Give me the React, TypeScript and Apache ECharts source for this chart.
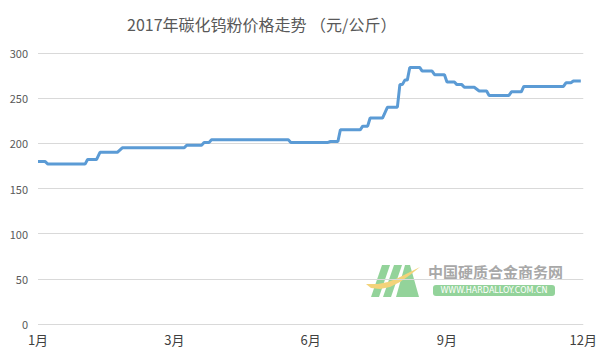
import React, { useEffect, useRef } from "react";
import * as echarts from "echarts";

// Price level segments (x index on a 0..220 scale spanning Jan..Dec)
const segStart = [0, 4, 20, 25, 34, 60, 67, 70, 102, 118, 122, 131, 134, 141, 146, 148, 150, 155, 160, 165, 169, 172, 178, 182, 191, 196, 213, 216];
const segEnd = [2.8, 19, 23.6, 32, 59, 66, 69, 101, 117, 121, 130, 133, 139, 145, 147, 149, 154, 159, 164, 168, 171, 176, 181, 190, 195, 212, 215, 219];
const segValue = [180, 177, 182, 190, 195, 198, 201, 204, 201, 202, 215, 219, 228, 240, 265, 270, 284, 280, 276, 268, 265, 262, 258, 253, 257, 263, 267, 269];

const xTickPositions = [0, 55, 110, 165, 220];
const xTickLabels = ["1月", "3月", "6月", "9月", "12月"];

const yMin = 0;
const yMax = 300;
const yInterval = 50;

const titleText = "2017年碳化钨粉价格走势 （元/公斤）";
const watermarkName = "中国硬质合金商务网";
const watermarkUrl = "WWW.HARDALLOY.COM.CN";

const FONT = "'Noto Sans CJK SC', 'Noto Sans', sans-serif";

export default function App() {
  const ref = useRef<HTMLDivElement>(null);

  useEffect(() => {
    if (!ref.current) return;
    const chart = echarts.init(ref.current, undefined, { renderer: "svg" });

    const points: [number, number][] = [];
    segStart.forEach((s, i) => {
      points.push([s, segValue[i]]);
      points.push([segEnd[i], segValue[i]]);
    });

    const green = "#93d39a";

    chart.setOption({
      animation: false,
      backgroundColor: "#ffffff",
      textStyle: { fontFamily: FONT },
      title: {
        text: titleText,
        left: 122,
        top: 11,
        textStyle: { fontSize: 16, fontWeight: "normal", color: "#595959", fontFamily: FONT },
      },
      grid: { left: 38, right: 12, top: 53, bottom: 34, containLabel: false },
      xAxis: {
        type: "value",
        min: 0,
        max: 220,
        interval: 55,
        axisLine: { show: false },
        axisTick: { show: false },
        splitLine: { show: false },
        axisLabel: {
          fontSize: 13,
          color: "#404040",
          margin: 9,
          fontFamily: FONT,
          formatter: (v: number) => {
            const i = xTickPositions.indexOf(v);
            return i >= 0 ? xTickLabels[i] : "";
          },
        },
      },
      yAxis: {
        type: "value",
        min: yMin,
        max: yMax,
        interval: yInterval,
        axisLine: { show: false },
        axisTick: { show: false },
        splitLine: { lineStyle: { color: "#d9d9d9", width: 1 } },
        axisLabel: { fontSize: 11, color: "#595959", margin: 10, fontFamily: FONT },
      },
      series: [
        {
          type: "line",
          data: points,
          symbol: "none",
          lineStyle: { color: "#5b9bd5", width: 3 },
          itemStyle: { color: "#5b9bd5" },
        },
      ],
      graphic: [
        {
          type: "group",
          silent: true,
          children: [
            { type: "polygon", shape: { points: [[371, 297], [379, 297], [390, 265], [382, 265]] }, style: { fill: green } },
            { type: "polygon", shape: { points: [[383, 297], [391, 297], [402, 265], [394, 265]] }, style: { fill: green } },
            { type: "polygon", shape: { points: [[396, 297], [405, 265], [410, 265], [419, 297], [411, 297]] }, style: { fill: green } },
            {
              type: "polygon",
              shape: {
                points: [
                  [366, 284], [371, 288], [380, 289], [390, 287], [400, 282], [410, 275], [420, 267],
                  [408, 273], [398, 278], [388, 282], [378, 284], [370, 284],
                ],
              },
              style: { fill: "#f3d37a" },
            },
            {
              type: "text",
              x: 428,
              y: 264,
              style: { text: watermarkName, fontSize: 15, fontWeight: "bold", fill: "#a8a8a8", fontFamily: FONT },
            },
            {
              type: "rect",
              shape: { x: 433, y: 285, width: 122, height: 11, r: 3 },
              style: { fill: green },
            },
            {
              type: "text",
              x: 494,
              y: 290.5,
              style: {
                text: watermarkUrl,
                fontSize: 8,
                fill: "#ffffff",
                align: "center",
                verticalAlign: "middle",
                fontFamily: "'DejaVu Sans', sans-serif",
              },
            },
          ],
        },
      ],
    });

    return () => chart.dispose();
  }, []);

  return (
    <div
      ref={ref}
      style={{ position: "fixed", left: 0, top: 0, width: 600, height: 358 }}
    />
  );
}
